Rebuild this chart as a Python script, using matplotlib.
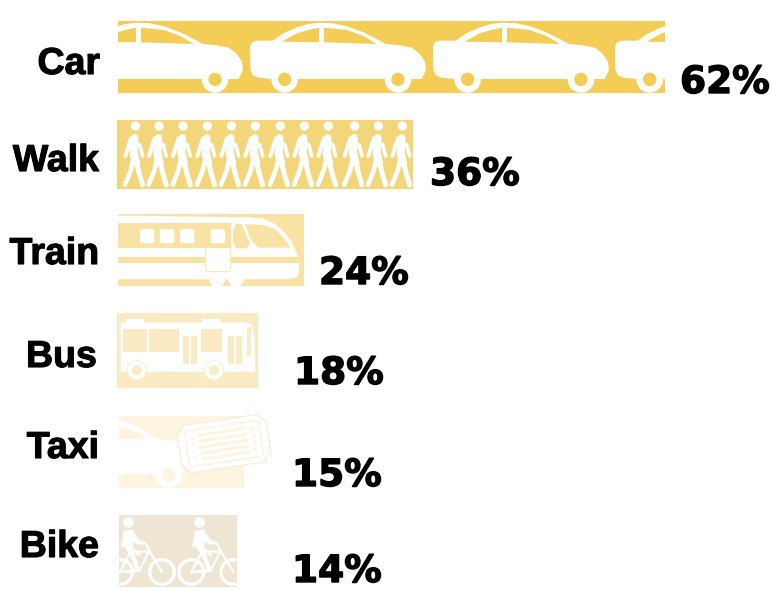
import numpy as np
import matplotlib
matplotlib.use('Agg')
import matplotlib.pyplot as plt
import matplotlib.patheffects as pe
from matplotlib.patches import Polygon, Circle, Rectangle, FancyBboxPatch
from matplotlib.transforms import Affine2D

# values
modes = ['Car', 'Walk', 'Train', 'Bus', 'Taxi', 'Bike']
shares = [62, 36, 24, 18, 15, 14]
# the bars in the picture are not quite proportional to the labels
drawn_lengths = [62, 33.5, 21.1, 15.9, 14.2, 13.4]

# layout, in pixels of the reference
bar_centers = [57, 154.5, 250, 350.5, 452, 551]
bar_heights = [72, 69, 72, 74.5, 72, 72]
bar_nudge = [0, -0.1, 0, -0.08, 0.1, 0.1]
bar_colors = ['#F3CD56', '#F3D67A', '#F9E3A4', '#FBEBC4', '#FEF4DF', '#EEE5D3']
label_right = [100, 99, 99, 97, 99, 99]
label_base = [74, 171, 264, 367, 458, 557]
pct_left = [680, 430, 319, 294, 292, 292]
pct_base = [93, 185, 284, 384, 486, 582]
PX_PER_UNIT = 547 / 62

fig = plt.figure(figsize=(7.71, 5.9), dpi=100)
ax = fig.add_axes([0, 0, 1, 1])
ax.set_xlim(-118 / PX_PER_UNIT, (771 - 118) / PX_PER_UNIT)
ax.set_ylim(590, 0)
ax.axis('off')
bars = ax.barh(bar_centers, drawn_lengths, height=bar_heights, left=bar_nudge,
               color=bar_colors, linewidth=0)

# overlay in pixels for the pictograms and the text
ov = fig.add_axes([0, 0, 1, 1])
ov.set_xlim(0, 771)
ov.set_ylim(590, 0)
ov.axis('off')
ov.patch.set_alpha(0)


def crop(ox, oy, dx=0):
    return Affine2D().translate(dx, 0).scale(1 / 3).translate(ox, oy) + ov.transData


def poly(tr, pts, color='white', clip=None, **kw):
    p = Polygon(pts, closed=True, facecolor=color, edgecolor='none', transform=tr, **kw)
    ov.add_patch(p)
    if clip is not None:
        p.set_clip_path(clip)
    return p


def disc(tr, xy, r, color='white', clip=None, **kw):
    c = Circle(xy, r, facecolor=color, transform=tr, **{'edgecolor': 'none', **kw})
    ov.add_patch(c)
    if clip is not None:
        c.set_clip_path(clip)
    return c


def box(tr, x0, y0, x1, y1, color, clip=None, rad=0):
    if rad:
        r = FancyBboxPatch((x0, y0), x1 - x0, y1 - y0, boxstyle='round,pad=0,rounding_size=%g' % rad,
                           facecolor=color, edgecolor='none', transform=tr)
    else:
        r = Rectangle((x0, y0), x1 - x0, y1 - y0, facecolor=color, edgecolor='none', transform=tr)
    ov.add_patch(r)
    if clip is not None:
        r.set_clip_path(clip)
    return r


def stroke(tr, pts, w, color='white', clip=None):
    xs, ys = zip(*pts)
    ln, = ov.plot(xs, ys, color=color, lw=w / 3 * 0.72, transform=tr,
                  solid_capstyle='round', solid_joinstyle='round')
    if clip is not None:
        ln.set_clip_path(clip)
    return ln


def ring(tr, xy, r, w, clip=None, color='white'):
    c = Circle(xy, r, facecolor='none', edgecolor=color, lw=w / 3 * 0.72, transform=tr)
    ov.add_patch(c)
    if clip is not None:
        c.set_clip_path(clip)


# car row
car_body = [(470, 92), (518, 92), (550, 70), (590, 52), (625, 42), (660, 38), (700, 40), (745, 50),
            (790, 67), (830, 87), (858, 102), (900, 106), (935, 113), (958, 130), (975, 155), (978, 180),
            (965, 207), (515, 207), (475, 203), (458, 195), (451, 178), (450, 110), (456, 97)]
rear_window = [(545, 95), (590, 70), (625, 60), (657, 53), (657, 97)]
front_window = [(672, 53), (740, 60), (790, 78), (830, 102), (672, 97)]
car_bar = bars[0]
for dx in [-549, 0, 549, 1095]:
    tr = crop(100, 10, dx)
    poly(tr, car_body, clip=car_bar)
    poly(tr, rear_window, bar_colors[0], clip=car_bar)
    poly(tr, front_window, bar_colors[0], clip=car_bar)
    for wx in [554, 894]:
        disc(tr, (wx, 208), 40, clip=car_bar)
        disc(tr, (wx, 208), 20, bar_colors[0], clip=car_bar)

# walk row
walk_bar = bars[1]
tr = crop(100, 10)
for hx in [106, 177, 249, 322, 394, 466, 541, 613, 685, 764, 835, 907]:
    disc(tr, (hx, 348), 14, clip=walk_bar)
    poly(tr, [(hx - 17, 385), (hx - 6, 372), (hx + 8, 375), (hx + 11, 405), (hx + 7, 422), (hx + 15, 462),
              (hx - 9, 472), (hx - 17, 432)], clip=walk_bar)
    stroke(tr, [(hx - 13, 385), (hx - 23, 415), (hx - 30, 438)], 12, clip=walk_bar)
    stroke(tr, [(hx + 13, 404), (hx + 22, 438)], 11, clip=walk_bar)
    stroke(tr, [(hx - 8, 455), (hx - 14, 482), (hx - 31, 524)], 14, clip=walk_bar)
    stroke(tr, [(hx + 2, 445), (hx + 10, 485), (hx + 22, 525)], 15, clip=walk_bar)

# train row
train_bar = bars[2]
tr = crop(100, 200)
c = bar_colors[2]
poly(tr, [(54, 47), (450, 52), (490, 56), (525, 72), (555, 98), (578, 130), (594, 170), (598, 215),
          (590, 232), (560, 238), (54, 238)], clip=train_bar)
box(tr, 54, 68, 392, 145, c, clip=train_bar)
box(tr, 54, 172, 316, 190, c, clip=train_bar)
box(tr, 392, 172, 595, 190, c, clip=train_bar)
for wx in [120, 180, 240, 332]:
    box(tr, wx, 87, wx + 43, 130, 'white', clip=train_bar, rad=6)
poly(tr, [(399, 95), (408, 72), (425, 72), (450, 130), (440, 145), (408, 145), (399, 130)], c, clip=train_bar)
poly(tr, [(435, 72), (490, 75), (525, 87), (550, 112), (572, 143), (475, 143), (452, 118)], c, clip=train_bar)
for wx in [352, 408]:
    disc(tr, (wx, 238), 23, clip=train_bar)
door = FancyBboxPatch((316, 70), 76, 145, boxstyle='round,pad=0,rounding_size=10', facecolor='none',
                      edgecolor=c, lw=0.7, transform=tr)
ov.add_patch(door)

# bus row
bus_bar = bars[3]
tr = crop(100, 200)
c = bar_colors[3]
poly(tr, [(62, 368), (78, 368), (78, 357), (132, 357), (132, 368), (306, 368), (306, 357), (362, 357), (362, 368),
          (440, 368), (455, 373), (463, 410), (466, 516), (62, 516)], clip=bus_bar)
for x0, y0, x1, y1 in [(69, 388, 140, 457), (148, 388, 237, 457), (249, 408, 267, 492), (274, 408, 291, 492),
                       (303, 388, 365, 457), (385, 408, 402, 492), (409, 408, 427, 492), (441, 380, 452, 467)]:
    box(tr, x0, y0, x1, y1, c, clip=bus_bar)
for wx in [110, 342]:
    disc(tr, (wx, 511), 29, 'white', edgecolor=c, lw=0.6)
    disc(tr, (wx, 511), 15, c)

# taxi row
taxi_bar = bars[4]
tr = crop(100, 400)
c = bar_colors[4]
poly(tr, [(57, 60), (85, 68), (120, 85), (165, 115), (230, 122), (255, 150), (262, 185), (245, 222), (57, 222)],
     clip=taxi_bar)
poly(tr, [(57, 78), (90, 88), (118, 100), (142, 116), (57, 116)], c, clip=taxi_bar)
disc(tr, (207, 224), 40, clip=taxi_bar)
disc(tr, (207, 224), 20, c, clip=taxi_bar)

# ticket, drawn flat and then turned
tk = Affine2D().rotate_deg(-8.5).translate(372, 131) + tr
hw, hh, nr = 135, 72, 20
outline = []
for sx, sy, a0 in [(-1, -1, 90), (1, -1, 180), (1, 1, 270), (-1, 1, 360)]:
    for t in np.radians(np.linspace(a0, a0 - 90, 8)):
        outline.append((sx * hw + nr * np.cos(t), sy * hh + nr * np.sin(t)))
ticket = Polygon(outline, closed=True, facecolor='white', edgecolor='#FBE6DA', lw=0.7, transform=tk)
ov.add_patch(ticket)
inner = FancyBboxPatch((-112, -54), 224, 108, boxstyle='round,pad=0,rounding_size=8', facecolor='none',
                       edgecolor=c, lw=1.2, transform=tk)
ov.add_patch(inner)
for sy in [-36, -18, 0, 18, 36]:
    ov.plot([-72, 72], [sy, sy], color=c, lw=2.2, transform=tk, solid_capstyle='butt')
for sx in [-92, 92]:
    for sy in [-30, -10, 10, 30]:
        disc(tk, (sx, sy), 5, c)

# bike row
bike_bar = bars[5]
for dx in [0, 214]:
    t = crop(100, 400, dx)
    disc(t, (85, 367), 16, clip=bike_bar)
    poly(t, [(70, 392), (98, 388), (108, 405), (118, 420), (134, 425), (136, 434), (112, 433), (100, 425),
             (98, 445), (62, 441), (68, 415)], clip=bike_bar)
    stroke(t, [(82, 440), (100, 470), (112, 508)], 14, clip=bike_bar)
    stroke(t, [(92, 442), (118, 465)], 9, clip=bike_bar)
    ring(t, (60, 516), 37, 10, clip=bike_bar)
    ring(t, (186, 516), 37, 10, clip=bike_bar)
    stroke(t, [(60, 516), (118, 512), (92, 450)], 8, clip=bike_bar)
    stroke(t, [(60, 516), (92, 455), (145, 455)], 7, clip=bike_bar)
    stroke(t, [(118, 512), (148, 452), (186, 516)], 7, clip=bike_bar)
    stroke(t, [(148, 452), (135, 428)], 7, clip=bike_bar)

# text
for i, name in enumerate(modes):
    ov.text(label_right[i], label_base[i], name, ha='right', va='baseline', fontsize=27,
            family='Liberation Sans', fontweight='bold', color='black',
            path_effects=[pe.withStroke(linewidth=0.8, foreground='black')])
    ov.text(pct_left[i], pct_base[i], '%d%%' % shares[i], ha='left', va='baseline', fontsize=27,
            family='DejaVu Sans', fontweight='bold', color='black',
            path_effects=[pe.withStroke(linewidth=1.0, foreground='black')])

plt.savefig('out.png', dpi=100)
